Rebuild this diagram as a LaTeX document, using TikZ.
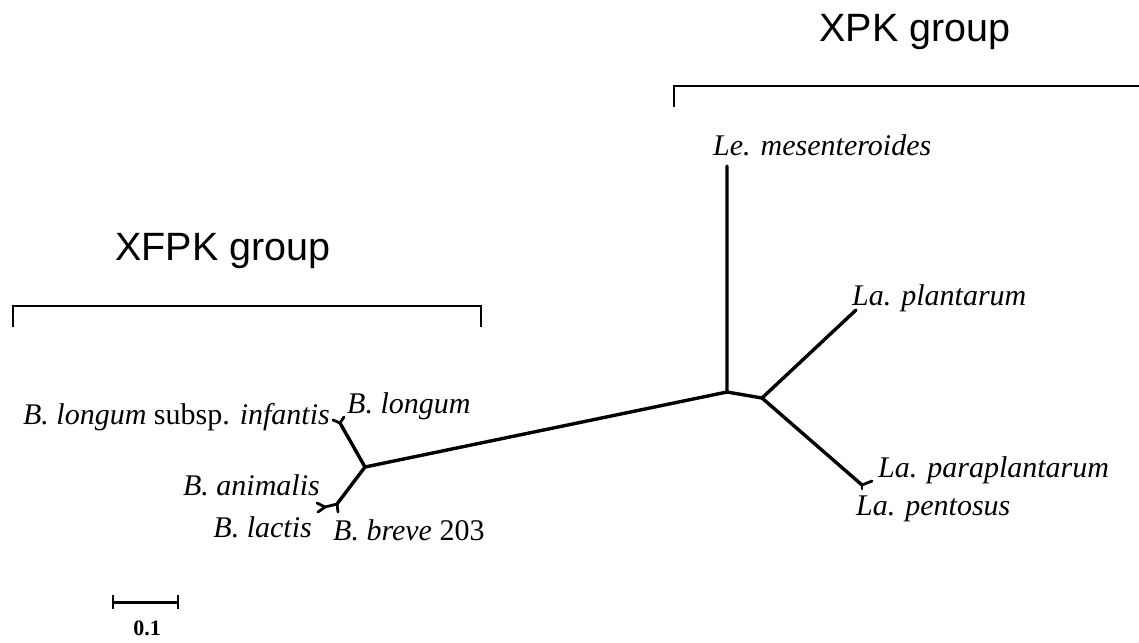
\documentclass[tikz,border=0pt]{standalone}
\usepackage{fontspec}
\setmainfont{Liberation Serif}
\newfontfamily\grpfont{Liberation Sans}
\begin{document}
\begin{tikzpicture}[x=1pt,y=-1pt,
  branch/.style={line width=3.4pt,line cap=round,line join=round},
  twig/.style={line width=2.8pt,line cap=round},
  bracket/.style={line width=1.8pt},
  taxon/.style={inner sep=0pt,font=\fontsize{30}{33}\selectfont},
  grplabel/.style={inner sep=0pt,font=\grpfont\fontsize{39.5}{44}\selectfont}]
\useasboundingbox (0,0) rectangle (1139,642);
% group labels and brackets
\node[grplabel] (xpk) at (915,32) {XPK group};
\node[grplabel] (xfpk) at (223,251) {XFPK group};
\coordinate (b1a) at (674,107);
\coordinate (b1b) at (674,86);
\coordinate (b1c) at (1139,86);
\draw[bracket] (b1a) -- (b1b) -- (b1c);
\coordinate (b2a) at (13,327);
\coordinate (b2b) at (13,306);
\coordinate (b2c) at (481,306);
\coordinate (b2d) at (481,327);
\draw[bracket] (b2a) -- (b2b) -- (b2c) -- (b2d);
% tree nodes
\coordinate (root) at (727,392);
\coordinate (le) at (727,166);
\coordinate (rn) at (762,398);
\coordinate (pl) at (856,310);
\coordinate (pp) at (862,485);
\coordinate (ppa) at (872,481);
\coordinate (ppe) at (862,489);
\coordinate (ln) at (365,467);
\coordinate (lf) at (340,423);
\coordinate (inf) at (333,420);
\coordinate (lon) at (344,417);
\coordinate (f1) at (337,504);
\coordinate (brv) at (338,512);
\coordinate (f2) at (325,507);
\coordinate (ani) at (317,503);
\coordinate (lac) at (318,512);
\draw[branch] (le) -- (root) -- (rn) -- (pl);
\draw[branch] (rn) -- (pp);
\draw[twig] (pp) -- (ppa);
\draw[twig] (pp) -- (ppe);
\draw[branch] (root) -- (ln) -- (lf);
\draw[twig] (lf) -- (inf);
\draw[twig] (lf) -- (lon);
\draw[branch] (ln) -- (f1);
\draw[twig] (f1) -- (brv);
\draw[twig] (f1) -- (f2) -- (ani);
\draw[twig] (f2) -- (lac);
% taxon labels
\node[taxon,anchor=base west] (tle) at (713,155) {\textit{Le. mesenteroides}};
\node[taxon,anchor=base west] (tpl) at (852,305) {\textit{La. plantarum}};
\node[taxon,anchor=base west] (tpp) at (878,477) {\textit{La. paraplantarum}};
\node[taxon,anchor=base west] (tpe) at (856,515) {\textit{La. pentosus}};
\node[taxon,anchor=base east] (tinf) at (330,424) {\textit{B. longum} subsp. \textit{infantis}};
\node[taxon,anchor=base west] (tlon) at (347,413) {\textit{B. longum}};
\node[taxon,anchor=base east] (tani) at (320,495) {\textit{B. animalis}};
\node[taxon,anchor=base east] (tlac) at (312,537) {\textit{B. lactis}};
\node[taxon,anchor=base west] (tbrv) at (333,540) {\textit{B. breve} 203};
% scale bar
\coordinate (s1) at (113,602);
\coordinate (s2) at (178,602);
\coordinate (s1t) at (113,595);
\coordinate (s1b) at (113,609);
\coordinate (s2t) at (178,595);
\coordinate (s2b) at (178,609);
\draw[line width=3pt] (s1) -- (s2);
\draw[line width=2.4pt] (s1t) -- (s1b);
\draw[line width=2.4pt] (s2t) -- (s2b);
\node[inner sep=0pt,font=\bfseries\fontsize{22}{24}\selectfont] (sl) at (147,628) {0.1};
\end{tikzpicture}
\end{document}
